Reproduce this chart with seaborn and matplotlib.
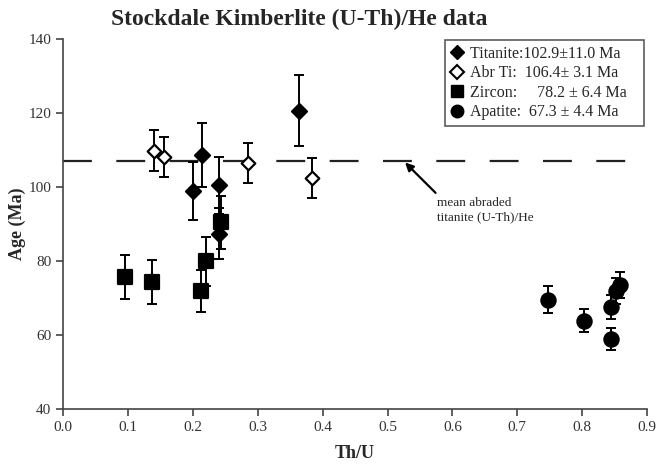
import pandas as pd
import numpy as np
import seaborn as sns
import matplotlib.pyplot as plt
from matplotlib.lines import Line2D

# Dati (Th/U, eta in Ma, errore)
titanite_x = [0.200, 0.2145, 0.241, 0.241, 0.363]
titanite_y = [98.8, 108.7, 100.4, 87.4, 120.6]
titanite_err = [7.8, 8.7, 7.7, 7.0, 9.6]

abr_x = [0.140, 0.156, 0.285, 0.383]
abr_y = [109.8, 108.1, 106.5, 102.4]
abr_err = [5.5, 5.3, 5.4, 5.3]

zircon_x = [0.095, 0.137, 0.212, 0.221, 0.244]
zircon_y = [75.7, 74.4, 71.8, 79.9, 90.4]
zircon_err = [6.0, 5.9, 5.7, 6.7, 7.2]

apatite_x = [0.747, 0.802, 0.845, 0.845, 0.852, 0.858]
apatite_y = [69.5, 63.9, 67.6, 58.9, 72.0, 73.6]
apatite_err = [3.6, 3.2, 3.2, 2.9, 3.5, 3.5]

mean_abraded = 106.9

legend_labels = ['Titanite:102.9\u00b111.0 Ma   ',
                 'Abr Ti:  106.4\u00b1 3.1 Ma   ',
                 'Zircon:     78.2 \u00b1 6.4 Ma   ',
                 'Apatite:  67.3 \u00b1 4.4 Ma   ']

sns.set_style('white')
plt.rcParams['font.family'] = ['Liberation Serif', 'DejaVu Serif']

fig = plt.figure(figsize=(6.57, 4.68), dpi=100)
ax = fig.add_axes([0.096, 0.126, 0.889, 0.791])

gruppi = [
    (titanite_x, titanite_y, titanite_err, 'D', 'black', 58),
    (abr_x, abr_y, abr_err, 'D', 'white', 48),
    (zircon_x, zircon_y, zircon_err, 's', 'black', 95),
    (apatite_x, apatite_y, apatite_err, 'o', 'black', 105),
]

# linea tratteggiata della media
ax.axhline(mean_abraded, color='#222222', lw=1.6, dashes=(13, 11), zorder=1)

for xs, ys, errs, m, fc, s in gruppi:
    ax.errorbar(xs, ys, yerr=errs, fmt='none', ecolor='black', elinewidth=1.4,
                capsize=3.8, capthick=1.4, zorder=2)
    sns.scatterplot(x=xs, y=ys, marker=m, color=fc, edgecolor='black',
                    linewidth=1.6, s=s, ax=ax, zorder=3, legend=False)

# freccia e testo
ax.annotate('', xy=(0.527, 106.6), xytext=(0.574, 98.4),
            arrowprops=dict(arrowstyle='-|>', color='black', lw=1.6, mutation_scale=12,
                            shrinkA=0, shrinkB=0))
ax.text(0.576, 97.3, 'mean abraded\ntitanite (U-Th)/He', fontsize=9.5, va='top',
        ha='left', linespacing=1.25)

ax.set_xlim(0, 0.9)
ax.set_ylim(40, 140)
ax.set_xticks(np.arange(0, 0.91, 0.1))
ax.set_xticklabels([f'{v:.1f}' for v in np.arange(0, 0.91, 0.1)])
ax.set_yticks(range(40, 141, 20))

sns.despine(ax=ax)
for sp in ['left', 'bottom']:
    ax.spines[sp].set_color('#444444')
    ax.spines[sp].set_linewidth(1.2)
ax.tick_params(direction='out', length=5, width=1.2, color='#444444',
               labelsize=11, labelcolor='#333333', left=True, bottom=True)

ax.set_xlabel('Th/U', fontsize=13, fontweight='bold', labelpad=8)
ax.set_ylabel('Age (Ma)', fontsize=13, fontweight='bold', labelpad=2)
fig.text(0.455, 0.958, 'Stockdale Kimberlite (U-Th)/He data', ha='center', va='center',
         fontsize=17, fontweight='bold')

handles = [
    Line2D([], [], marker='D', color='black', ls='none', markersize=7),
    Line2D([], [], marker='D', markerfacecolor='white', markeredgecolor='black',
           markeredgewidth=1.5, ls='none', markersize=7),
    Line2D([], [], marker='s', color='black', ls='none', markersize=9),
    Line2D([], [], marker='o', color='black', ls='none', markersize=9),
]
leg = ax.legend(handles, legend_labels, loc='upper right', bbox_to_anchor=(1.0, 1.005),
                fontsize=11.5, frameon=True, fancybox=False, handlelength=0.8,
                handletextpad=0.4, borderpad=0.35, labelspacing=0.22, borderaxespad=0.2)
leg.get_frame().set_edgecolor('#333333')
leg.get_frame().set_linewidth(1.2)

plt.savefig('out.png', dpi=100)
